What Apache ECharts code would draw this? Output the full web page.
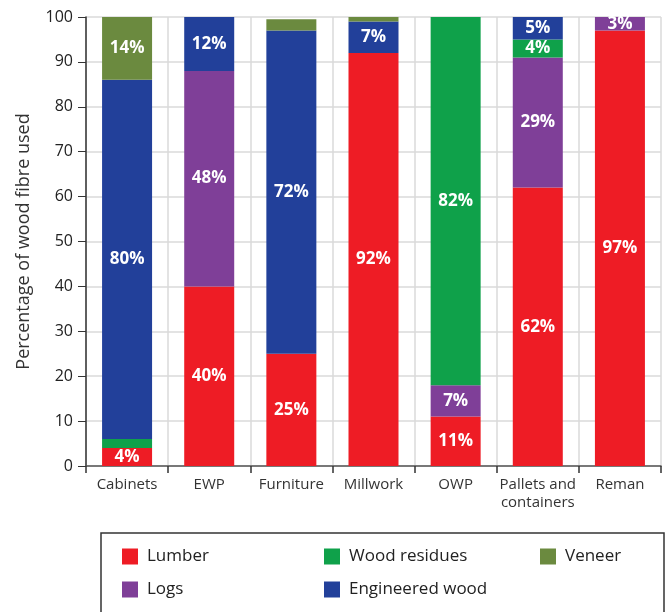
<!DOCTYPE html>
<html>
<head>
<meta charset="utf-8">
<script src="https://cdn.jsdelivr.net/npm/echarts@6/dist/echarts.min.js"></script>
<style>
  html, body { margin: 0; padding: 0; background: #fff; }
  #chart { width: 672px; height: 612px; }
</style>
</head>
<body>
<div id="chart"></div>
<script>
// Share of wood fibre used by each product sector (percent)
const categories = ['Cabinets', 'EWP', 'Furniture', 'Millwork', 'OWP', 'Pallets and\ncontainers', 'Reman'];
const lumber       = [4, 40, 25, 92, 11, 62, 97];
const logs         = [0, 48, 0, 0, 7, 29, 3];
const woodResidues = [2, 0, 0, 0, 82, 4, 0];
const engineered   = [80, 12, 72, 7, 0, 5, 0];
const veneer       = [14, 0, 2.5, 1, 0, 0, 0];
const yTicks = [0, 10, 20, 30, 40, 50, 60, 70, 80, 90, 100];

const FONT = '"Open Sans", "Noto Sans", sans-serif';

// Segments under 3% are too thin to carry a label
function segData(values) {
  return values.map(v => ({
    value: v === 0 ? null : v,
    label: { show: v >= 3 }
  }));
}

function barSeries(name, values, color) {
  return {
    name: name,
    type: 'bar',
    stack: 'total',
    barWidth: 50,
    data: segData(values),
    itemStyle: { color: color },
    label: {
      position: 'inside',
      formatter: '{c}%',
      color: '#fff',
      fontFamily: FONT,
      fontWeight: 'bold',
      fontSize: 17
    },
    emphasis: { disabled: true }
  };
}

const chart = echarts.init(document.getElementById('chart'), null, { renderer: 'canvas' });

const legendBase = {
  orient: 'vertical',
  icon: 'rect',
  itemWidth: 16,
  itemHeight: 16,
  itemGap: 16,
  padding: 0,
  selectedMode: false,
  textStyle: { fontFamily: FONT, fontSize: 17, color: '#222', padding: [0, 0, 0, 4] }
};

chart.setOption({
  animation: false,
  backgroundColor: '#fff',
  grid: { left: 86, right: 11, top: 17, bottom: 146, containLabel: false },
  xAxis: {
    type: 'category',
    data: categories,
    axisLine: { lineStyle: { color: '#555', width: 1.5 } },
    axisTick: { show: true, length: 7, lineStyle: { color: '#333', width: 1.5 } },
    splitLine: { show: true, lineStyle: { color: '#dadada', width: 1.5 } },
    axisLabel: {
      fontFamily: FONT, fontSize: 15, color: '#333', margin: 10, lineHeight: 18,
      interval: 0
    }
  },
  yAxis: {
    type: 'value',
    min: yTicks[0],
    max: yTicks[yTicks.length - 1],
    interval: 10,
    name: 'Percentage of wood fibre used',
    nameLocation: 'middle',
    nameGap: 53,
    nameTextStyle: { fontFamily: FONT, fontSize: 18, color: '#333' },
    axisLine: { show: true, lineStyle: { color: '#333', width: 1.5 } },
    axisTick: { show: true, length: 8, lineStyle: { color: '#333', width: 1 } },
    splitLine: { show: true, lineStyle: { color: '#dadada', width: 1.5 } },
    axisLabel: { fontFamily: FONT, fontSize: 16, color: '#222', margin: 13 }
  },
  legend: [
    Object.assign({}, legendBase, { left: 122, top: 548, data: ['Lumber', 'Logs'] }),
    Object.assign({}, legendBase, { left: 324, top: 548, data: ['Wood residues', 'Engineered wood'] }),
    Object.assign({}, legendBase, { left: 540, top: 548, data: ['Veneer'] })
  ],
  graphic: [{
    type: 'rect',
    shape: { x: 101, y: 533, width: 563, height: 110 },
    style: { fill: 'none', stroke: '#333', lineWidth: 1.5 },
    silent: true
  }],
  series: [
    barSeries('Lumber', lumber, '#ee1c25'),
    barSeries('Logs', logs, '#7f3f98'),
    barSeries('Wood residues', woodResidues, '#0fa14a'),
    barSeries('Engineered wood', engineered, '#22409a'),
    barSeries('Veneer', veneer, '#6b8a3f')
  ]
});
</script>
</body>
</html>
